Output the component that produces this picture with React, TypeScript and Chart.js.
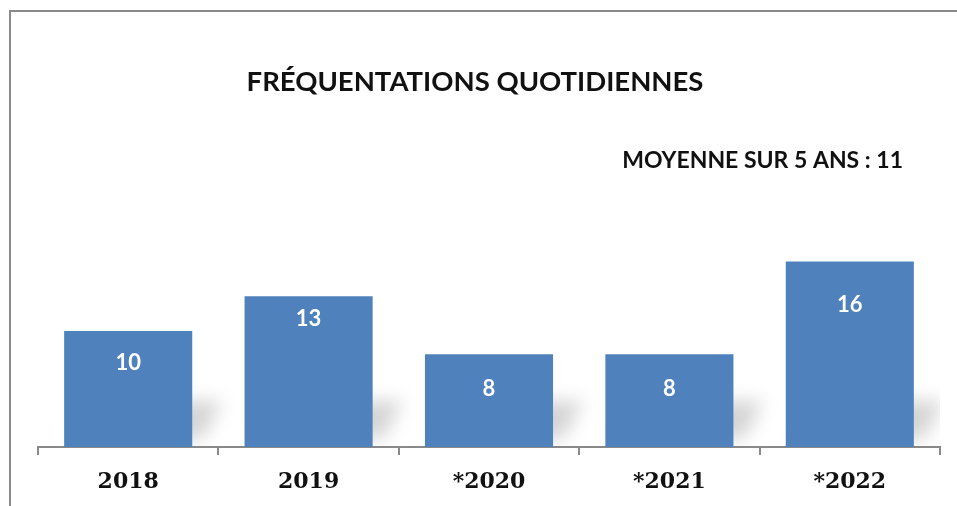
import React, { useEffect, useRef } from "react";
import { Chart, registerables } from "chart.js";

Chart.register(...registerables);

const categories = ["2018", "2019", "*2020", "*2021", "*2022"];
const visits = [10, 13, 8, 8, 16];
const titleText = "FRÉQUENTATIONS QUOTIDIENNES";
const averageText = "MOYENNE SUR 5 ANS : 11";

// style: label offset below each bar top (px)
const LABEL_OFFSETS = [32, 23, 35, 35, 44];

const BAR_COLOR = "#4F81BD";
const AXIS_COLOR = "#898989";

const decorPlugin = {
  id: "decor",
  beforeDraw(chart: any) {
    const ctx = chart.ctx;
    ctx.save();
    ctx.fillStyle = "#ffffff";
    ctx.fillRect(0, 0, chart.width, chart.height);
    ctx.strokeStyle = "#8a8a8a";
    ctx.lineWidth = 2;
    ctx.beginPath();
    ctx.moveTo(10, chart.height);
    ctx.lineTo(10, 11);
    ctx.lineTo(chart.width, 11);
    ctx.stroke();
    ctx.restore();
  },
  beforeDatasetsDraw(chart: any) {
    const ctx = chart.ctx;
    const area = chart.chartArea;
    const meta = chart.getDatasetMeta(0);
    ctx.save();
    ctx.beginPath();
    ctx.rect(area.left, area.top, area.right - area.left, area.bottom - area.top - 1);
    ctx.clip();
    ctx.filter = "blur(9px)";
    meta.data.forEach((bar: any) => {
      const half = bar.width / 2;
      const l = bar.x - half;
      const r = bar.x + half;
      const b = bar.base;
      ctx.fillStyle = "rgba(0,0,0,0.17)";
      ctx.beginPath();
      ctx.moveTo(l + 10, b - 8);
      ctx.lineTo(l + 40, b - 46);
      ctx.lineTo(r + 30, b - 46);
      ctx.lineTo(r + 10, b - 8);
      ctx.closePath();
      ctx.fill();
    });
    ctx.restore();
  },
  afterDatasetsDraw(chart: any) {
    const ctx = chart.ctx;
    const meta = chart.getDatasetMeta(0);
    ctx.save();
    ctx.fillStyle = "#ffffff";
    ctx.font = "bold 22px Lato";
    ctx.textAlign = "center";
    ctx.textBaseline = "middle";
    meta.data.forEach((bar: any, i: number) => {
      ctx.fillText(String(visits[i]), bar.x, bar.y + LABEL_OFFSETS[i]);
    });
    ctx.restore();
  },
  afterDraw(chart: any) {
    const ctx = chart.ctx;
    ctx.save();
    ctx.fillStyle = "#111111";
    ctx.textBaseline = "middle";
    ctx.font = "bold 27.5px Lato";
    ctx.textAlign = "center";
    ctx.fillText(titleText, 475, 82);
    ctx.font = "bold 23px Lato";
    ctx.textAlign = "right";
    ctx.fillText(averageText, 903, 161);
    ctx.restore();
  },
};

export default function App() {
  const canvasRef = useRef<HTMLCanvasElement | null>(null);

  useEffect(() => {
    document.body.style.margin = "0";
    const canvas = canvasRef.current;
    if (!canvas) return;
    const chart = new Chart(canvas, {
      type: "bar",
      data: {
        labels: categories,
        datasets: [
          {
            data: visits,
            backgroundColor: BAR_COLOR,
            borderWidth: 0,
            barPercentage: 0.71,
            categoryPercentage: 1,
          },
        ],
      },
      options: {
        animation: false,
        responsive: true,
        maintainAspectRatio: false,
        layout: { padding: { left: 38, right: 17, top: 215, bottom: 0 } },
        plugins: {
          legend: { display: false },
          title: { display: false },
          tooltip: { enabled: false },
        },
        scales: {
          y: {
            display: false,
            min: 0,
            max: 20,
          },
          x: {
            afterFit: (s: any) => {
              s.height = 59;
            },
            border: { display: true, color: AXIS_COLOR, width: 2 },
            grid: {
              offset: true,
              drawOnChartArea: false,
              drawTicks: true,
              tickLength: 8,
              color: AXIS_COLOR,
              lineWidth: 2,
            },
            ticks: {
              color: "#111111",
              padding: 14,
              font: { family: "'DejaVu Serif'", size: 22, weight: "bold" },
            },
          },
        },
      },
      plugins: [decorPlugin],
    });
    return () => chart.destroy();
  }, []);

  return (
    <div style={{ position: "relative", width: 957, height: 506 }}>
      <canvas ref={canvasRef} />
    </div>
  );
}
